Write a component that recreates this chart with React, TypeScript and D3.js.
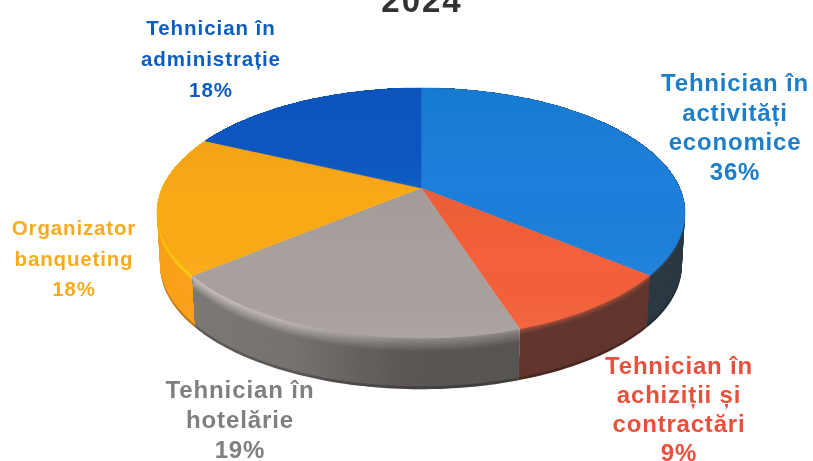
import * as d3 from 'd3';

const CATEGORIES = [
  ['Tehnician în', 'activități', 'economice'],
  ['Tehnician în', 'achiziții și', 'contractări'],
  ['Tehnician în', 'hotelărie'],
  ['Organizator', 'banqueting'],
  ['Tehnician în', 'administrație'],
];
const VALUES = [36, 9, 19, 18, 18];
const TOP_COLORS = ['#1a7fda', '#f4603a', '#a9a19d', '#fbaa14', '#0a57c2'];
const RIM_COLORS = ['#35607f', '#a8503c', '#cfc8c4', '#ffe010', '#0a57c2'];
const WALL_COLORS = ['#2b3844', '#62362e', '#7d7875', '#f9a01a', '#0a3f90'];
const TEXT_COLORS = ['#1f7ec8', '#e9503c', '#7f7f7f', '#f9ab1c', '#0f5cc0'];
const RIM_DEPTH = [4, 7, 15, 7, 4];

// label placement: centre x, first line y, line step, font size, tracking
const LABEL_SPOTS = [
  { x: 735, y: 91, step: 29.5, size: 24, track: 0.8 },
  { x: 679, y: 374, step: 29, size: 24, track: 0.8 },
  { x: 240, y: 398, step: 30, size: 24, track: 0.9 },
  { x: 74, y: 235, step: 30.5, size: 20.5, track: 0.85 },
  { x: 211, y: 35, step: 31, size: 20.5, track: 0.95 },
];

const WIDTH = 813;
const HEIGHT = 461;
const HUB_X = 421;
const HUB_Y = 188;
const DEPTH = 53;
// perspective of the pie's top face
const PERSP = 0.2;
const SCALE_X = 258.7;
const SCALE_Y = 120;

function project(angle: number, drop = 0) {
  const ux = Math.sin(angle);
  const uy = -Math.cos(angle);
  const w = 1 - PERSP * uy;
  const shrink = 1 - 0.012 * (drop / DEPTH);
  return [HUB_X + (SCALE_X * ux * shrink) / w, HUB_Y + (SCALE_Y * uy * shrink) / w + drop] as [number, number];
}

function arcPoints(a0: number, a1: number, drop = 0) {
  const n = Math.max(2, Math.ceil(Math.abs(a1 - a0) / 0.02));
  return d3.range(n + 1).map(i => project(a0 + ((a1 - a0) * i) / n, drop));
}

const line = d3.line();

function wallPath(a0: number, a1: number, drop: number) {
  return line([...arcPoints(a0, a1), ...arcPoints(a1, a0, drop)]) + 'Z';
}

export default function App() {
  const slices = d3.pie<number>().sort(null)(VALUES);
  // painted deepest first, each layer shorter than the last
  const layers = d3.range(DEPTH, 0, -1.5);

  // back slices first so the front walls cover them
  const frontness = (i: number) => -Math.cos((slices[i].startAngle + slices[i].endAngle) / 2);
  const order = d3.range(slices.length).sort((a, b) => frontness(a) - frontness(b));

  return (
    <svg width={WIDTH} height={HEIGHT} style={{ position: 'absolute', left: 0, top: 0, background: '#fff' }}>
      <defs>
        <filter id="scan" x="-5%" y="-5%" width="110%" height="110%">
          <feGaussianBlur stdDeviation="0.5" />
        </filter>
        <linearGradient id="wallShade" x1="0" x2="1" y1="0" y2="0">
          <stop offset="0" stopColor="#000" stopOpacity="0" />
          <stop offset="0.3" stopColor="#000" stopOpacity="0.05" />
          <stop offset="0.65" stopColor="#000" stopOpacity="0.28" />
          <stop offset="1" stopColor="#000" stopOpacity="0.3" />
        </linearGradient>
        <linearGradient id="faceShade" x1="0" x2="0" y1="0" y2="1">
          <stop offset="0" stopColor="#000" stopOpacity="0.04" />
          <stop offset="0.5" stopColor="#000" stopOpacity="0" />
          <stop offset="1" stopColor="#fff" stopOpacity="0.04" />
        </linearGradient>
      </defs>
      <g filter="url(#scan)">
        <text
          x={422}
          y={12}
          textAnchor="middle"
          fontFamily="'Liberation Sans', Arial, sans-serif"
          fontWeight={700}
          fontSize={33}
          letterSpacing={2}
          fill="#333"
        >
          2024
        </text>

        {order.map(i => {
          const s = slices[i];
          const mix = d3.interpolateRgb(RIM_COLORS[i], WALL_COLORS[i]);
          return (
            <g key={i}>
              {layers.map(d => (
                <path
                  key={d}
                  d={wallPath(s.startAngle, s.endAngle, d)}
                  fill={d > DEPTH - 2 ? d3.rgb(WALL_COLORS[i]).darker(0.8).formatHex() : mix(Math.min(1, d / RIM_DEPTH[i]))}
                />
              ))}
              {i === 2 && <path d={wallPath(s.startAngle, s.endAngle, DEPTH)} fill="url(#wallShade)" />}
            </g>
          );
        })}

        {slices.map((s, i) => {
          const face = line([[HUB_X, HUB_Y], ...arcPoints(s.startAngle, s.endAngle)]) + 'Z';
          return (
            <g key={i}>
              <path d={face} fill={TOP_COLORS[i]} stroke={TOP_COLORS[i]} strokeWidth={0.5} />
              <path d={face} fill="url(#faceShade)" />
            </g>
          );
        })}

        {CATEGORIES.map((lines, i) => {
          const spot = LABEL_SPOTS[i];
          return (
            <text
              key={i}
              textAnchor="middle"
              fontFamily="'Liberation Sans', Arial, sans-serif"
              fontWeight={700}
              fontSize={spot.size}
              letterSpacing={spot.track}
              fill={TEXT_COLORS[i]}
            >
              {[...lines, `${VALUES[i]}%`].map((t, k) => (
                <tspan key={k} x={spot.x} y={spot.y + k * spot.step}>
                  {t}
                </tspan>
              ))}
            </text>
          );
        })}
      </g>
    </svg>
  );
}
